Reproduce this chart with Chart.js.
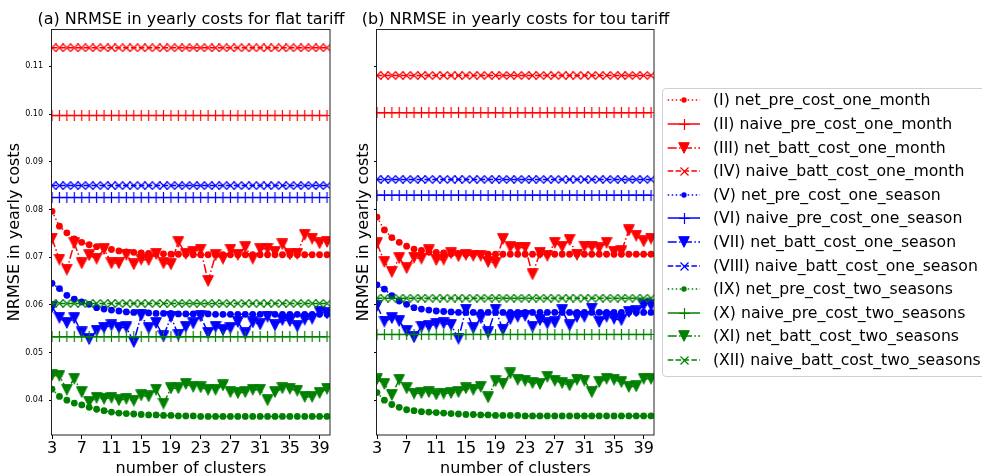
<!DOCTYPE html>
<html><head><meta charset="utf-8">
<script src="https://cdn.jsdelivr.net/npm/chart.js@4.4.1/dist/chart.umd.min.js"></script>
<style>
html,body{margin:0;padding:0;background:#fff;width:982px;height:475px;overflow:hidden;font-family:'DejaVu Sans',sans-serif;}
#c1{position:absolute;left:0;top:0;}
#c2{position:absolute;left:340px;top:0;}
#legend{position:absolute;left:662px;top:88px;width:340px;height:289px;border:1px solid #d0d0d0;border-radius:4px;background:#fff;box-sizing:border-box;}
.row{position:absolute;left:0;height:24px;width:330px;}
.row canvas{position:absolute;left:0;top:0;}
.row span{position:absolute;left:50px;top:0;white-space:nowrap;font-size:15.7px;line-height:24px;color:#000;}
</style></head><body>
<canvas id="c1" width="382" height="475"></canvas>
<canvas id="c2" width="351" height="475"></canvas>
<div id="legend"></div>
<script>
// ---------------- data ----------------
const clusters = [3,4,5,6,7,8,9,10,11,12,13,14,15,16,17,18,19,20,21,22,23,24,25,26,27,28,29,30,31,32,33,34,35,36,37,38,39,40];
const xTickValues = [3,7,11,15,19,23,27,31,35,39];
const yTickValuesLeft = [0.04,0.05,0.06,0.07,0.08,0.09,0.10,0.11];
const yTickValuesRight = [0.04,0.05,0.06,0.08,0.09,0.11];
const xRange = [3, 40.4];
const yRange = [0.0327, 0.1178];

const seriesNames = [
  '(I) net_pre_cost_one_month','(II) naive_pre_cost_one_month','(III) net_batt_cost_one_month','(IV) naive_batt_cost_one_month',
  '(V) net_pre_cost_one_season','(VI) naive_pre_cost_one_season','(VII) net_batt_cost_one_season','(VIII) naive_batt_cost_one_season',
  '(IX) net_pre_cost_two_seasons','(X) naive_pre_cost_two_seasons','(XI) net_batt_cost_two_seasons','(XII) naive_batt_cost_two_seasons'
];

// (a) flat tariff
const flatNetPreMonth = [0.0796,0.0765,0.0751,0.0738,0.0731,0.0726,0.0722,0.0719,0.0716,0.0713,0.0711,0.0710,0.0709,0.0708,0.0707,0.0707,0.0706,0.0706,0.0706,0.0705,0.0705,0.0705,0.0705,0.0705,0.0705,0.0705,0.0705,0.0705,0.0705,0.0705,0.0705,0.0705,0.0705,0.0705,0.0705,0.0705,0.0705,0.0705];
const flatNaivePreMonth = 0.0997;
const flatNetBattMonth = [0.0739,0.0695,0.0674,0.0729,0.0687,0.0704,0.0697,0.0717,0.0687,0.0687,0.0705,0.0685,0.0695,0.0694,0.0707,0.0687,0.0685,0.0732,0.0707,0.0711,0.0716,0.0650,0.0704,0.0697,0.0716,0.0705,0.0721,0.0697,0.0717,0.0718,0.0711,0.0727,0.0706,0.0707,0.0747,0.0739,0.0729,0.0732];
const flatNaiveBattMonth = 0.1139;
const flatNetPreSeason = [0.0645,0.0634,0.0620,0.0612,0.0606,0.0601,0.0594,0.0591,0.0589,0.0587,0.0585,0.0584,0.0584,0.0583,0.0582,0.0582,0.0582,0.0581,0.0581,0.0581,0.0581,0.0581,0.0580,0.0580,0.0580,0.0580,0.0580,0.0580,0.0580,0.0580,0.0580,0.0580,0.0580,0.0580,0.0580,0.0580,0.0580,0.0580];
const flatNaivePreSeason = 0.0825;
const flatNetBattSeason = [0.0595,0.0573,0.0562,0.0572,0.0542,0.0528,0.0546,0.0552,0.0557,0.0552,0.0553,0.0522,0.0578,0.0551,0.0562,0.0534,0.0575,0.0537,0.0554,0.0561,0.0576,0.0541,0.0554,0.0547,0.0551,0.0564,0.0540,0.0563,0.0559,0.0575,0.0557,0.0568,0.0566,0.0555,0.0569,0.0571,0.0585,0.0582];
const flatNaiveBattSeason = 0.0850;
const flatNetPreTwo = [0.0423,0.0408,0.0400,0.0394,0.0390,0.0385,0.0381,0.0378,0.0375,0.0373,0.0372,0.0371,0.0370,0.0369,0.0369,0.0368,0.0368,0.0367,0.0367,0.0367,0.0366,0.0366,0.0366,0.0366,0.0366,0.0366,0.0366,0.0366,0.0366,0.0366,0.0366,0.0366,0.0366,0.0366,0.0366,0.0366,0.0366,0.0366];
const flatNaivePreTwo = 0.0533;
const flatNetBattTwo = [0.0452,0.0451,0.0422,0.0445,0.0417,0.0396,0.0405,0.0403,0.0405,0.0400,0.0403,0.0399,0.0410,0.0408,0.0422,0.0393,0.0425,0.0425,0.0434,0.0428,0.0427,0.0422,0.0422,0.0431,0.0417,0.0415,0.0417,0.0422,0.0422,0.0400,0.0417,0.0425,0.0424,0.0420,0.0407,0.0407,0.0415,0.0424];
const flatNaiveBattTwo = 0.0603;

// (b) tou tariff
const touNetPreMonth = [0.0784,0.0757,0.0741,0.0731,0.0723,0.0717,0.0714,0.0711,0.0710,0.0709,0.0707,0.0707,0.0706,0.0706,0.0706,0.0706,0.0706,0.0706,0.0706,0.0706,0.0706,0.0706,0.0706,0.0706,0.0706,0.0706,0.0706,0.0706,0.0706,0.0706,0.0706,0.0706,0.0706,0.0706,0.0706,0.0706,0.0706,0.0706];
const touNaivePreMonth = 0.1003;
const touNetBattMonth = [0.0729,0.0690,0.0669,0.0698,0.0677,0.0699,0.0697,0.0714,0.0694,0.0695,0.0708,0.0702,0.0705,0.0703,0.0703,0.0690,0.0688,0.0738,0.0721,0.0720,0.0720,0.0664,0.0709,0.0703,0.0730,0.0722,0.0736,0.0705,0.0722,0.0722,0.0719,0.0730,0.0711,0.0712,0.0756,0.0745,0.0733,0.0739];
const touNaiveBattMonth = 0.1081;
const touNetPreSeason = [0.0642,0.0633,0.0619,0.0608,0.0601,0.0594,0.0591,0.0589,0.0587,0.0586,0.0585,0.0584,0.0584,0.0584,0.0584,0.0584,0.0584,0.0584,0.0584,0.0584,0.0584,0.0584,0.0584,0.0584,0.0584,0.0584,0.0584,0.0584,0.0584,0.0584,0.0584,0.0584,0.0584,0.0584,0.0584,0.0584,0.0584,0.0584];
const touNaivePreSeason = 0.0830;
const touNetBattSeason = [0.0598,0.0565,0.0572,0.0566,0.0545,0.0532,0.0554,0.0555,0.0560,0.0561,0.0558,0.0529,0.0590,0.0551,0.0572,0.0542,0.0590,0.0548,0.0570,0.0575,0.0577,0.0554,0.0568,0.0561,0.0563,0.0589,0.0557,0.0575,0.0575,0.0592,0.0564,0.0575,0.0571,0.0568,0.0585,0.0586,0.0599,0.0599];
const touNaiveBattSeason = 0.0863;
const touNetPreTwo = [0.0416,0.0400,0.0391,0.0385,0.0380,0.0378,0.0376,0.0375,0.0374,0.0373,0.0372,0.0371,0.0370,0.0370,0.0369,0.0369,0.0368,0.0368,0.0368,0.0368,0.0367,0.0367,0.0367,0.0367,0.0367,0.0367,0.0367,0.0367,0.0367,0.0367,0.0367,0.0367,0.0367,0.0367,0.0367,0.0367,0.0367,0.0367];
const touNaivePreTwo = 0.0538;
const touNetBattTwo = [0.0444,0.0434,0.0411,0.0443,0.0425,0.0414,0.0415,0.0417,0.0412,0.0414,0.0415,0.0417,0.0425,0.0422,0.0428,0.0406,0.0440,0.0435,0.0456,0.0443,0.0441,0.0436,0.0434,0.0449,0.0441,0.0436,0.0431,0.0443,0.0441,0.0417,0.0438,0.0445,0.0443,0.0438,0.0428,0.0429,0.0445,0.0445];
const touNaiveBattTwo = 0.0614;

const flatSeries = [
  flatNetPreMonth, clusters.map(() => flatNaivePreMonth), flatNetBattMonth, clusters.map(() => flatNaiveBattMonth),
  flatNetPreSeason, clusters.map(() => flatNaivePreSeason), flatNetBattSeason, clusters.map(() => flatNaiveBattSeason),
  flatNetPreTwo, clusters.map(() => flatNaivePreTwo), flatNetBattTwo, clusters.map(() => flatNaiveBattTwo)
];
const touSeries = [
  touNetPreMonth, clusters.map(() => touNaivePreMonth), touNetBattMonth, clusters.map(() => touNaiveBattMonth),
  touNetPreSeason, clusters.map(() => touNaivePreSeason), touNetBattSeason, clusters.map(() => touNaiveBattSeason),
  touNetPreTwo, clusters.map(() => touNaivePreTwo), touNetBattTwo, clusters.map(() => touNaiveBattTwo)
];

// ---------------- styles ----------------
const FONT = "'DejaVu Sans', sans-serif";
Chart.defaults.font.family = FONT;
Chart.defaults.color = '#000';
const groupColors = ['#ff0000', '#0000ff', '#008000'];
const kinds = ['dot', 'plus', 'tri', 'x'];
const dashes = { dot: [1.5, 2.5], plus: [], tri: [9, 2.4, 1.5, 2.4], x: [5.5, 2.4] };

function markerCanvas(kind, color) {
  const c = document.createElement('canvas');
  const ctx = c.getContext('2d');
  if (kind === 'tri') {
    c.width = 12; c.height = 12;
    ctx.fillStyle = color; ctx.strokeStyle = color; ctx.lineWidth = 1;
    ctx.beginPath(); ctx.moveTo(0.7, 0.7); ctx.lineTo(11.3, 0.7); ctx.lineTo(6, 11.3); ctx.closePath();
    ctx.fill(); ctx.stroke();
  } else if (kind === 'plus') {
    c.width = 11; c.height = 11;
    ctx.strokeStyle = color; ctx.lineWidth = 1.2;
    ctx.beginPath(); ctx.moveTo(5.5, 0); ctx.lineTo(5.5, 11); ctx.moveTo(0, 5.5); ctx.lineTo(11, 5.5); ctx.stroke();
  } else if (kind === 'x') {
    c.width = 9; c.height = 9;
    ctx.strokeStyle = color; ctx.lineWidth = 1.2;
    ctx.beginPath(); ctx.moveTo(0.5, 0.5); ctx.lineTo(8.5, 8.5); ctx.moveTo(8.5, 0.5); ctx.lineTo(0.5, 8.5); ctx.stroke();
  }
  return c;
}
const markers = {};
groupColors.forEach(col => { markers[col] = { tri: markerCanvas('tri', col), plus: markerCanvas('plus', col), x: markerCanvas('x', col) }; });

function makeDatasets(series) {
  return series.map((vals, i) => {
    const kind = kinds[i % 4];
    const color = groupColors[Math.floor(i / 4)];
    return {
      label: seriesNames[i],
      data: clusters.map((c, j) => ({ x: c, y: vals[j] })),
      borderColor: color, backgroundColor: color,
      borderWidth: 1.5, borderDash: dashes[kind],
      pointStyle: kind === 'dot' ? 'circle' : markers[color][kind],
      pointRadius: kind === 'dot' ? 3.4 : 5,
      pointHoverRadius: kind === 'dot' ? 3.4 : 5,
      pointBackgroundColor: color, pointBorderColor: color, pointBorderWidth: 0,
      tension: 0, fill: false, order: 12 - i
    };
  });
}

const framePlugin = {
  id: 'frame',
  afterDraw(chart) {
    const { ctx, chartArea: a } = chart;
    ctx.save();
    ctx.strokeStyle = '#222'; ctx.lineWidth = 1;
    ctx.strokeRect(Math.round(a.left) - 0.5, Math.round(a.top) + 0.5, Math.round(a.right - a.left) + 0.5, Math.round(a.bottom - a.top) - 0.5);
    ctx.restore();
  }
};

function makeChart(canvasId, series, title, yTicks, showYLabels, sideWidth, yTitlePad) {
  return new Chart(document.getElementById(canvasId), {
    type: 'line',
    data: { datasets: makeDatasets(series) },
    options: {
      responsive: false, animation: false, events: [],
      layout: { padding: 0 },
      plugins: {
        legend: { display: false }, tooltip: { enabled: false },
        title: { display: true, text: title, color: '#000', font: { family: FONT, size: 16, weight: 'normal' }, padding: { top: 10, bottom: 0 } }
      },
      scales: {
        x: {
          type: 'linear', min: xRange[0], max: xRange[1],
          afterBuildTicks: s => { s.ticks = xTickValues.map(v => ({ value: v })); },
          afterFit: s => { s.height = 40; },
          ticks: { font: { size: 16 }, color: '#000', padding: 0, maxRotation: 0, autoSkip: false },
          grid: { drawOnChartArea: false, drawTicks: true, tickLength: 4, color: '#000', tickWidth: 1 },
          border: { display: false },
          title: { display: true, text: 'number of clusters', font: { size: 16 }, color: '#000', padding: { top: 0, bottom: -3.5 } }
        },
        y: {
          type: 'linear', position: 'left', min: yRange[0], max: yRange[1],
          afterBuildTicks: s => { s.ticks = yTicks.map(v => ({ value: v })); },
          afterFit: s => { s.width = sideWidth; },
          ticks: { font: { size: 8 }, color: '#000', padding: 6, callback: v => showYLabels ? v.toFixed(2) : '' },
          grid: { drawOnChartArea: false, drawTicks: true, tickLength: 3, color: '#000', tickWidth: 1 },
          border: { display: false },
          title: { display: true, text: 'NRMSE in yearly costs', font: { size: 16 }, color: '#000', padding: { top: yTitlePad, bottom: 0 } }
        },
        ySide: {
          type: 'linear', position: 'right', display: true,
          afterFit: s => { s.width = sideWidth; },
          ticks: { display: false }, grid: { display: false }, border: { display: false }
        }
      }
    },
    plugins: [framePlugin]
  });
}

makeChart('c1', flatSeries, '(a) NRMSE in yearly costs for flat tariff', yTickValuesLeft, true, 52, 5.4);
makeChart('c2', touSeries, '(b) NRMSE in yearly costs for tou tariff', yTickValuesRight, false, 37, 14.4);

// ---------------- legend ----------------
const legend = document.getElementById('legend');
seriesNames.forEach((name, i) => {
  const kind = kinds[i % 4];
  const color = groupColors[Math.floor(i / 4)];
  const row = document.createElement('div');
  row.className = 'row';
  row.style.top = (-0.7 + i * 23.6) + 'px';
  const cv = document.createElement('canvas');
  cv.width = 44; cv.height = 24;
  const ctx = cv.getContext('2d');
  ctx.strokeStyle = color; ctx.lineWidth = 1.5; ctx.setLineDash(dashes[kind]);
  ctx.beginPath(); ctx.moveTo(4.7, 12); ctx.lineTo(37, 12); ctx.stroke();
  ctx.setLineDash([]);
  const cx = 21;
  if (kind === 'dot') {
    ctx.fillStyle = color; ctx.beginPath(); ctx.arc(cx, 12, 2.7, 0, Math.PI * 2); ctx.fill();
  } else {
    const m = markers[color][kind];
    ctx.drawImage(m, Math.round(cx - m.width / 2), Math.round(12 - m.height / 2));
  }
  const sp = document.createElement('span');
  sp.textContent = name;
  row.appendChild(cv); row.appendChild(sp);
  legend.appendChild(row);
});
</script>
</body></html>
